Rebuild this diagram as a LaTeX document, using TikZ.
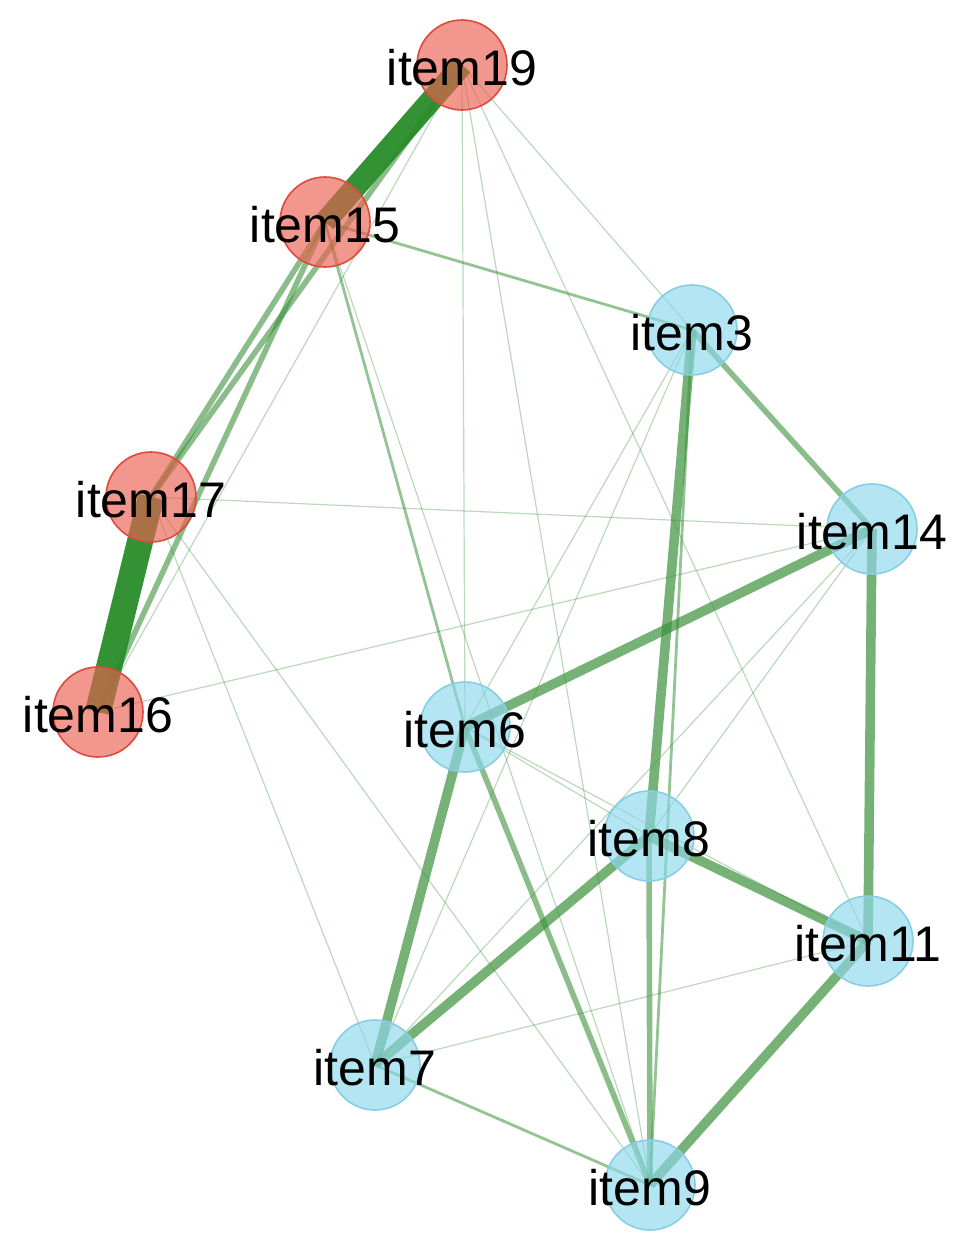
\documentclass[tikz,border=0pt]{standalone}
\usepackage{fontspec}
\setmainfont{Liberation Sans}
\usetikzlibrary{backgrounds}
\definecolor{itemred}{RGB}{235,95,80}
\definecolor{itemredline}{RGB}{222,75,62}
\definecolor{itemblue}{RGB}{140,215,235}
\definecolor{itembludeline}{RGB}{135,205,228}
\definecolor{edgegreen}{RGB}{60,145,60}
\definecolor{edgedark}{RGB}{40,140,40}
\begin{document}
\begin{tikzpicture}[
    x=0.5pt, y=-0.5pt,
    item/.style={circle, minimum size=45pt, inner sep=0pt, line width=0.8pt, fill opacity=0.65, text opacity=1},
    redItem/.style={item, draw=itemredline, fill=itemred},
    blueItem/.style={item, draw=itembludeline, fill=itemblue},
    every label/.style={font=\fontsize{25}{25}\selectfont, text=black, text opacity=1, inner sep=0pt, yshift=-1.5pt},
    faint/.style={draw=edgegreen, draw opacity=0.35, line width=0.6pt},
    weak/.style={draw=edgegreen, draw opacity=0.55, line width=1.4pt},
    mid/.style={draw=edgegreen, draw opacity=0.6, line width=2.8pt},
    strong/.style={draw=edgegreen, draw opacity=0.7, line width=4.8pt},
    heavy/.style={draw=edgedark, draw opacity=0.95, line width=#1},
]
    \useasboundingbox (0,0) rectangle (975,1244);
    % Nodes
    \node[redItem, label=center:item19] (i19) at (462,65) {};
    \node[redItem, label=center:item15] (i15) at (325,222) {};
    \node[redItem, label=center:item17] (i17) at (151,497) {};
    \node[redItem, label=center:item16] (i16) at (98,712) {};
    \node[blueItem, label=center:item3] (i3) at (692,330) {};
    \node[blueItem, label=center:item14] (i14) at (872,529) {};
    \node[blueItem, label=center:item6] (i6) at (465,727) {};
    \node[blueItem, label=center:item8] (i8) at (649,836) {};
    \node[blueItem, label=center:item11] (i11) at (868,941) {};
    \node[blueItem, label=center:item7] (i7) at (375,1065) {};
    \node[blueItem, label=center:item9] (i9) at (650,1185) {};
    % Edges
    \begin{scope}[on background layer]
        \foreach \a/\b in {i19/i16, i19/i6, i19/i9, i19/i11, i19/i3, i15/i9,
                           i17/i14, i16/i14, i17/i7, i17/i9, i3/i6, i3/i7,
                           i14/i8, i14/i7, i6/i8, i6/i11, i7/i11}
            \draw[faint] (\a.center) -- (\b.center);
        \foreach \a/\b in {i15/i3, i15/i6, i3/i9, i7/i9}
            \draw[weak] (\a.center) -- (\b.center);
        \foreach \a/\b in {i19/i17, i15/i16, i15/i17, i3/i14, i6/i9, i8/i9}
            \draw[mid] (\a.center) -- (\b.center);
        \foreach \a/\b in {i3/i8, i14/i6, i14/i11, i6/i7, i8/i7, i8/i11, i11/i9}
            \draw[strong] (\a.center) -- (\b.center);
        % Red cluster
        \draw[heavy=11pt] (i19.center) -- (i15.center);
        \draw[heavy=13pt] (i17.center) -- (i16.center);
    \end{scope}
\end{tikzpicture}
\end{document}
